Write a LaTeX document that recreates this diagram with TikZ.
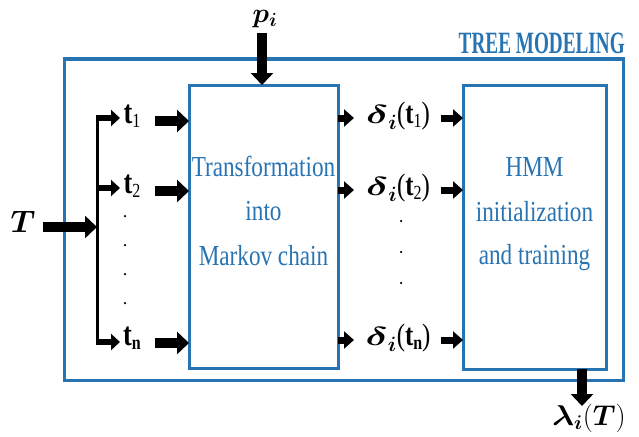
\documentclass[tikz,border=0pt]{standalone}
\usepackage{amsmath,bm}
\usepackage{graphicx}
\usepackage{fontspec}
\setmainfont{Liberation Serif}
\newfontfamily\condfont[FakeStretch=0.8]{Liberation Serif}
\newfontfamily\titlefont[FakeStretch=0.62]{Liberation Serif}
\usetikzlibrary{arrows.meta}
\definecolor{boxblue}{RGB}{40,116,178}
\newcommand{\subn}[1]{\raisebox{-0.3ex}{\fontsize{20}{20}\selectfont #1}}
\newcommand{\tlab}[1]{{\condfont\fontsize{33}{34}\selectfont\textbf{t}\subn{#1}}}
\newcommand{\dlab}[1]{{\condfont\fontsize{24}{30}\selectfont$\mathord{\scalebox{1.6}[1.05]{$\bm{\delta}$}}_{\scalebox{1.2}{$\scriptstyle\bm{i}$}}$\fontsize{31}{32}\selectfont(\textbf{t}\subn{#1})}}
\begin{document}
\begin{tikzpicture}[x=1pt,y=-1pt,
  blk/.style={draw=boxblue,line width=3pt,inner sep=0pt,outer sep=0pt},
  btxt/.style={text=boxblue,font=\condfont\fontsize{29}{32}\selectfont,inner sep=0pt},
  bigarr/.style={line width=10pt,-{Triangle[width=22pt,length=12pt]}},
  smallarr/.style={line width=6pt,-{Triangle[width=16pt,length=9pt]}},
  darr/.style={line width=7pt,-{Triangle[width=17pt,length=10pt]}},
  lbl/.style={inner sep=0pt},
  dotn/.style={circle,fill=black,inner sep=0pt,minimum size=2.5pt}]
\useasboundingbox (0,0) rectangle (639,436);
% boxes
\node[blk,minimum width=559pt,minimum height=321pt] (outer) at (343.5,219.5) {};
\node[blk,minimum width=149pt,minimum height=283pt] (trans) at (263.5,226.5) {};
\node[blk,minimum width=143pt,minimum height=284pt] (hmm) at (534.5,227) {};
\node[text=boxblue,font=\titlefont\bfseries\fontsize{31}{32}\selectfont,inner sep=0pt,anchor=base east] (title) at (625,53) {TREE MODELING};
% box texts
\node[btxt] (tr1) at (263.5,166) {Transformation};
\node[btxt] (tr2) at (263.5,211) {into};
\node[btxt] (tr3) at (263.5,256) {Markov chain};
\node[btxt] (hm1) at (534.5,167) {HMM};
\node[btxt] (hm2) at (534.5,212) {initialization};
\node[btxt] (hm3) at (534.5,258) {and training};
% inputs
\node[lbl] (p) at (265,19) {\scalebox{1.1}{\fontsize{24}{30}\selectfont$\bm{p_i}$}};
\draw[bigarr] (262,33) -- (262,85);
\node[lbl] (T) at (23,222) {\scalebox{1.25}{\fontsize{24}{30}\selectfont$\bm{T}$}};
\coordinate (vtop) at (97,116);
\coordinate (vbot) at (97,344.5);
\coordinate (vmid) at (97,227);
\draw[line width=3pt] (vtop) -- (vbot);
\draw[bigarr] (43,227) -- (vmid);
% t labels
\node[lbl] (t1) at (132,116) {\tlab{1}};
\node[lbl] (t2) at (132,186) {\tlab{2}};
\node[lbl] (tn) at (132,338) {\tlab{\textbf{n}}};
\coordinate (b1) at (96,118);
\coordinate (b2) at (96,188);
\coordinate (bn) at (96,342);
\draw[smallarr] (b1) -- (120,118);
\draw[smallarr] (b2) -- (120,188);
\draw[smallarr] (bn) -- (120,342);
\draw[bigarr] (155,121) -- (trans.west |- 0,121);
\draw[bigarr] (155,191) -- (trans.west |- 0,191);
\draw[bigarr] (155,343) -- (trans.west |- 0,343);
\node[dotn] (d1) at (125,216) {};
\node[dotn] (d2) at (125,245) {};
\node[dotn] (d3) at (125,274) {};
\node[dotn] (d4) at (125,303) {};
% delta labels
\node[lbl] (del1) at (398,116) {\dlab{1}};
\node[lbl] (del2) at (398,188) {\dlab{2}};
\node[lbl] (deln) at (398,338) {\dlab{\textbf{n}}};
\draw[darr] (trans.east |- 0,118) -- (354,118);
\draw[darr] (trans.east |- 0,190) -- (354,190);
\draw[darr] (trans.east |- 0,340) -- (354,340);
\draw[darr] (441,118) -- (hmm.west |- 0,118);
\draw[darr] (441,190) -- (hmm.west |- 0,190);
\draw[darr] (441,340) -- (hmm.west |- 0,340);
\node[dotn] (e1) at (401,221) {};
\node[dotn] (e2) at (401,252) {};
\node[dotn] (e3) at (401,283) {};
% output
\node[lbl] (lam) at (589,418) {\scalebox{1.15}{\fontsize{24}{30}\selectfont$\mathord{\scalebox{1.15}[1]{$\bm{\lambda}$}}_{\bm{i}}(\bm{T})$}};
\draw[bigarr] (hmm.south -| 582,0) -- (582,406);
\end{tikzpicture}
\end{document}
